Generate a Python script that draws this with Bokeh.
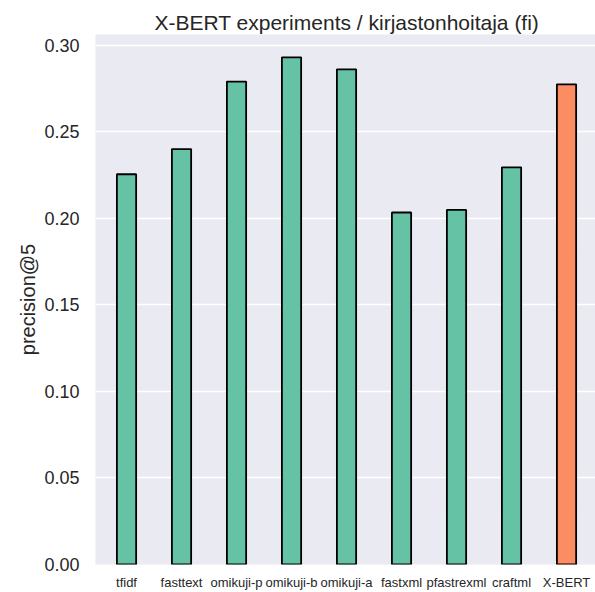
from bokeh.plotting import figure
from bokeh.models import Range1d, FixedTicker, NumeralTickFormatter, ColumnDataSource
from bokeh.embed import file_html
from bokeh.resources import INLINE

methods = ["tfidf", "fasttext", "omikuji-p", "omikuji-b", "omikuji-a",
           "fastxml", "pfastrexml", "craftml", "X-BERT"]
precision_at_5 = [0.2254, 0.2399, 0.2789, 0.2929, 0.2860,
                  0.2033, 0.2048, 0.2294, 0.2773]
bar_colors = ["#66C2A5"] * 8 + ["#FC8D62"]
y_ticks = [0.0, 0.05, 0.10, 0.15, 0.20, 0.25, 0.30]

idx = list(range(len(methods)))
src = ColumnDataSource(dict(x=idx, top=precision_at_5, color=bar_colors))

FONT = "Liberation Sans"

p = figure(width=595, height=592, output_backend="svg", toolbar_location=None,
           x_range=Range1d(-0.564, 8.527), y_range=Range1d(0, 0.3061),
           title="X-BERT experiments / kirjastonhoitaja (fi)",
           min_border_left=95, min_border_right=0, min_border_bottom=26,
           min_border_top=34)

p.vbar(x="x", top="top", width=0.35, bottom=0, source=src,
       fill_color="color", line_color="black", line_width=1.8)

p.background_fill_color = "#EAEAF2"
p.border_fill_color = "white"
p.outline_line_color = None

p.title.text_font = FONT
p.title.text_font_size = "21px"
p.title.text_font_style = "normal"
p.title.text_color = "#262626"
p.title.align = "left"
p.title.offset = 59
p.title.standoff = 2

p.xgrid.grid_line_color = None
p.ygrid.grid_line_color = "white"
p.ygrid.grid_line_width = 1.4

p.xaxis.ticker = FixedTicker(ticks=idx)
p.xaxis.major_label_overrides = {i: m for i, m in zip(idx, methods)}
p.xaxis.major_label_text_font = FONT
p.xaxis.major_label_text_font_size = "13px"
p.xaxis.major_label_text_color = "#262626"
p.xaxis.major_label_standoff = 10
p.xaxis.axis_line_color = None
p.xaxis.major_tick_line_color = None
p.xaxis.minor_tick_line_color = None
p.xaxis.major_tick_out = 0
p.xaxis.major_tick_in = 0

p.yaxis.ticker = FixedTicker(ticks=y_ticks)
p.yaxis.formatter = NumeralTickFormatter(format="0.00")
p.yaxis.major_label_text_font = FONT
p.yaxis.major_label_text_font_size = "18px"
p.yaxis.major_label_text_color = "#262626"
p.yaxis.major_label_standoff = 16
p.yaxis.axis_line_color = None
p.yaxis.major_tick_line_color = None
p.yaxis.minor_tick_line_color = None
p.yaxis.major_tick_out = 0
p.yaxis.major_tick_in = 0
p.yaxis.axis_label = "precision@5"
p.yaxis.axis_label_text_font = FONT
p.yaxis.axis_label_text_font_size = "20px"
p.yaxis.axis_label_text_font_style = "normal"
p.yaxis.axis_label_text_color = "#262626"
p.yaxis.axis_label_standoff = 2

open("out.html", "w").write(file_html(p, INLINE))
